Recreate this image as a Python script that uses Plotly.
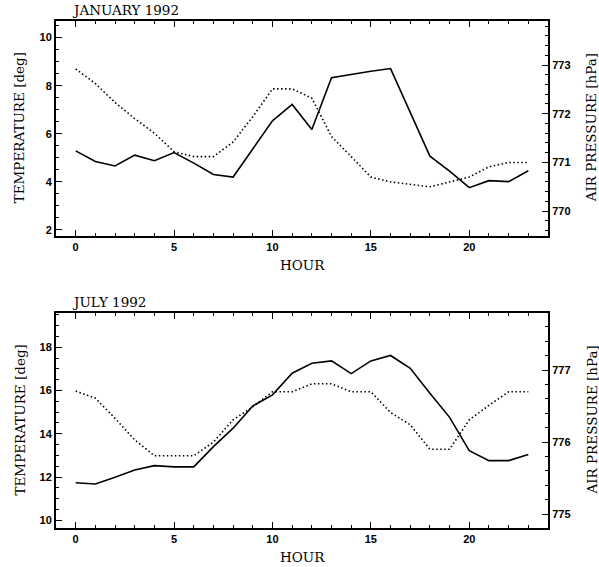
import plotly.graph_objects as go

hours = list(range(24))

jan_temp = [5.29, 4.85, 4.66, 5.11, 4.88, 5.22, 4.78, 4.31, 4.20, 5.37, 6.54, 7.22,
            6.18, 8.33, 8.47, 8.60, 8.71, 6.90, 5.07, 4.45, 3.76, 4.05, 4.01, 4.46]
jan_pres = [772.92, 772.62, 772.23, 771.90, 771.60, 771.22, 771.12, 771.12, 771.42, 771.94,
            772.51, 772.51, 772.32, 771.53, 771.12, 770.70, 770.60, 770.55, 770.50, 770.60,
            770.70, 770.91, 771.00, 771.00]
jul_temp = [11.74, 11.68, 11.99, 12.33, 12.53, 12.47, 12.47, 13.41, 14.26, 15.29, 15.80, 16.80,
            17.26, 17.37, 16.78, 17.37, 17.62, 17.03, 15.87, 14.76, 13.22, 12.76, 12.76, 13.04]
jul_pres = [776.71, 776.61, 776.33, 776.03, 775.81, 775.81, 775.81, 776.00, 776.31, 776.49,
            776.70, 776.70, 776.81, 776.81, 776.70, 776.70, 776.41, 776.24, 775.90, 775.90,
            776.31, 776.51, 776.70, 776.70]

titles = ["JANUARY 1992", "JULY 1992"]

W, H = 599, 567
FONT = "DejaVu Serif"
TFONT = "Liberation Sans"

def px(x):
    return x / W

def py(y):
    return 1 - y / H

fig = go.Figure()

solid = dict(color="black", width=1.6)
dotted = dict(color="black", width=1.6, dash="1.5px,2.5px")

fig.add_trace(go.Scatter(x=hours, y=jan_temp, mode="lines", line=solid, xaxis="x", yaxis="y", showlegend=False))
fig.add_trace(go.Scatter(x=hours, y=jan_pres, mode="lines", line=dotted, xaxis="x", yaxis="y2", showlegend=False))
fig.add_trace(go.Scatter(x=hours, y=jul_temp, mode="lines", line=solid, xaxis="x2", yaxis="y3", showlegend=False))
fig.add_trace(go.Scatter(x=hours, y=jul_pres, mode="lines", line=dotted, xaxis="x2", yaxis="y4", showlegend=False))

xdom = [px(56), px(548)]
top_dom = [py(236), py(20.7)]
bot_dom = [py(527.7), py(313.3)]

tickfont = dict(family=TFONT, size=11, color="black", weight="bold")

def xax(anchor, dom):
    return dict(domain=xdom, anchor=anchor, range=[-1, 24], showgrid=False, zeroline=False,
                showline=True, linecolor="black", linewidth=2, mirror="ticks",
                ticks="inside", ticklen=6, tickwidth=1, tickcolor="black",
                tick0=0, dtick=5, tickfont=tickfont,
                minor=dict(dtick=1, tick0=0, ticks="inside", ticklen=3, tickcolor="black", tickwidth=1))

def yleft(anchor, dom, rng, dtick, mdtick):
    return dict(domain=dom, anchor=anchor, range=rng, showgrid=False, zeroline=False,
                showline=True, linecolor="black", linewidth=2, mirror=False,
                ticks="inside", ticklen=6, tickwidth=1, tickcolor="black",
                dtick=dtick, tickfont=tickfont,
                minor=dict(dtick=mdtick, ticks="inside", ticklen=3, tickcolor="black", tickwidth=1))

def yright(anchor, overlay, rng, dtick, mdtick):
    return dict(anchor=anchor, overlaying=overlay, side="right", range=rng, showgrid=False,
                zeroline=False, showline=True, linecolor="black", linewidth=2,
                ticks="inside", ticklen=6, tickwidth=1, tickcolor="black",
                dtick=dtick, tickfont=tickfont,
                minor=dict(dtick=mdtick, ticks="inside", ticklen=3, tickcolor="black", tickwidth=1))

fig.update_layout(
    width=W, height=H, margin=dict(l=0, r=0, t=0, b=0),
    paper_bgcolor="white", plot_bgcolor="white",
    xaxis=xax("y", top_dom),
    yaxis=yleft("x", top_dom, [1.75, 10.7], 2, 0.5),
    yaxis2=yright("x", "y", [769.49, 773.91], 1, 0.2),
    xaxis2=xax("y3", bot_dom),
    yaxis3=yleft("x2", bot_dom, [9.66, 19.57], 2, 0.5),
    yaxis4=yright("x2", "y3", [774.81, 777.79], 1, 0.2),
)

labfont = dict(family=FONT, size=13.5, color="black")
ann = []
for i, (t0, t1) in enumerate([(20.7, 236), (313.3, 527.7)]):
    ann.append(dict(text=titles[i], x=px(70), y=py(t0 - 11), xref="paper", yref="paper",
                    xanchor="left", yanchor="middle", showarrow=False, font=labfont))
    ann.append(dict(text="HOUR", x=px(302), y=py(t1 + 29), xref="paper", yref="paper",
                    xanchor="center", yanchor="middle", showarrow=False, font=labfont))
    mid = (t0 + t1) / 2
    ann.append(dict(text="TEMPERATURE [deg]", x=px(19), y=py(mid), xref="paper", yref="paper",
                    xanchor="center", yanchor="middle", textangle=-90, showarrow=False, font=labfont))
    ann.append(dict(text="AIR PRESSURE [hPa]", x=px(591), y=py(mid), xref="paper", yref="paper",
                    xanchor="center", yanchor="middle", textangle=-90, showarrow=False, font=labfont))
fig.update_layout(annotations=ann)

fig.write_html("out.html")
